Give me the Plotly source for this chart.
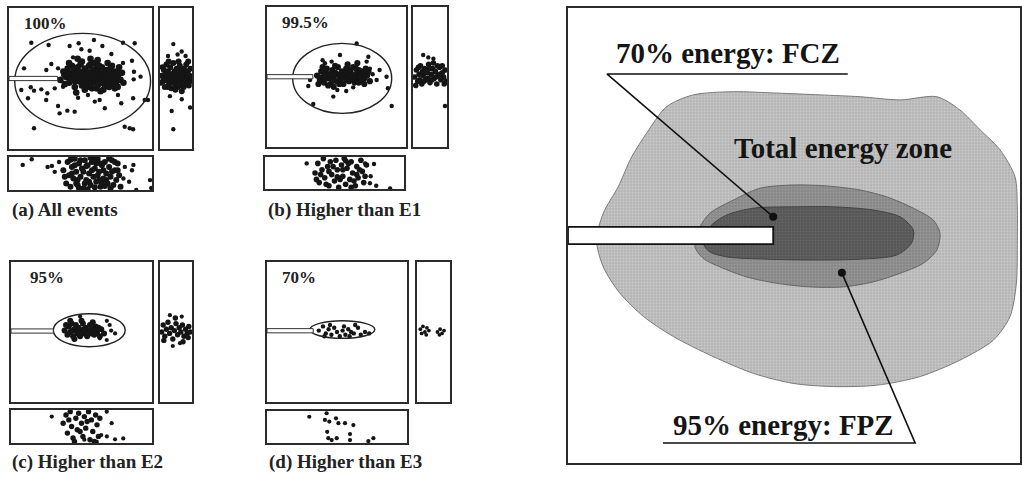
import plotly.graph_objects as go

W, H = 1022, 477
SERIF = "Liberation Serif, Times New Roman, serif"

# ---------------- data (panel units 0-100) ----------------
# Panel (a) all events
A_MAIN = [(38,55),(40,51),(41,57),(42,47),(43,53),(44,59),(45,50),(46,44),(47,56),(48,52),
 (49,48),(50,60),(50,54),(51,45),(52,51),(53,57),(53,42),(54,49),(55,53),(56,46),
 (56,59),(57,51),(58,55),(58,43),(59,48),(60,52),(60,61),(61,57),(62,45),(62,50),
 (63,54),(64,41),(64,48),(65,58),(66,52),(67,45),(67,55),(68,49),(69,61),(70,53),
 (70,44),(71,57),(72,48),(73,51),(74,55),(75,46),(76,52),(77,58),(78,49),(36,49),
 (39,46),(42,61),(45,55),(47,40),(48,58),(51,62),(52,47),(54,55),(55,44),(57,60),
 (58,47),(59,53),(61,43),(63,59),(65,47),(66,42),(68,56),(69,50),(71,52),(72,59),
 (74,43),(75,50),(77,54),(44,52),(46,48),(49,55),(52,54),(55,50),(57,46),(59,56),
 (60,49),(62,56),(64,53),(66,49),(68,53),(70,47),(72,54),(73,46),(53,50),(56,54),
 (61,51),(63,47),(65,51),(67,51),(58,51),(54,52),(50,50),(47,51),(43,49),(41,54),
 (79,54),(80,47),(76,44),(62,63),(57,64),(48,64)]
A_MAIN_SPARSE = [(15.6,75.4),(27.7,73.8),(42.4,73),(48.7,75),(59.4,77.3),(65.3,73),(79.7,75.4),
 (87.9,75),(50.6,70.7),(56.4,69.7),(44.8,65),(71.6,67.4),(79.7,61),(86,62.6),(29.6,60.3),
 (10.5,57.2),(26.1,56),(87.4,54.8),(92,51.3),(87.2,49.4),(15.2,43.8),(17.5,41.4),(22.6,42.3),
 (26.8,39.5),(8.6,41.8),(13.3,36),(26,34.8),(32,43),(37.8,44.2),(48.3,36.4),(55.2,38.3),
 (60,33.6),(63.4,34.8),(67,28.9),(76.2,38.3),(78.5,32.4),(86.8,36),(94.9,34.8),(97.2,34.8),
 (34.3,30.5),(35.4,25.3),(40.8,27.2),(45.9,26.5),(17.5,14.7),(80.9,15.8),(84.4,14.7),
 (86.8,14),(34.3,57.2),(37.8,52.5)]
A_RIGHT = [(5,52),(10,48),(12,56),(15,44),(18,53),(20,60),(22,49),(25,55),(28,46),(30,51),
 (32,58),(35,43),(37,53),(40,49),(42,61),(45,55),(47,46),(50,51),(52,57),(55,44),
 (57,53),(60,48),(62,59),(65,52),(67,45),(70,55),(72,50),(75,57),(77,47),(80,53),
 (82,60),(85,49),(87,55),(90,45),(92,52),(95,57),(97,50),(8,58),(14,50),(24,44),
 (34,48),(44,52),(54,49),(64,56),(74,44),(84,52),(94,48),(3,47),(27,62),(58,62),
 (88,62),(48,42),(68,41)]
A_RIGHT_SPARSE = [(41.6,74.4),(67.7,69.2),(36.5,27),(41.6,14),(94,29.4),
 (31,37.5),(68,35.3),(25,66),(55,67),(80,66)]
A_BOTTOM = [(38,60),(40,20),(41,85),(42,45),(43,10),(44,70),(45,35),(46,95),(47,55),(48,15),
 (49,80),(50,40),(51,65),(52,5),(53,90),(54,30),(55,75),(56,50),(57,15),(58,85),
 (59,40),(60,65),(61,25),(62,95),(63,55),(64,10),(65,75),(66,35),(67,85),(68,50),
 (69,20),(70,70),(71,40),(72,90),(73,15),(74,60),(75,30),(76,80),(77,45),(78,10),
 (39,40),(44,50),(48,30),(50,90),(52,55),(54,72),(56,25),(58,60),(60,8),(62,45),
 (64,80),(66,60),(68,30),(70,95),(72,55),(74,85),(46,75),(57,98),(61,80),(65,20),
 (53,20),(59,92),(67,12),(49,5),(43,92),(76,60),(71,5),(55,2),(63,30),(47,20)]
A_BOTTOM_SPARSE = [(9.6,76),(15.9,93),(27,70),(30,73),(32,55),(81,70),(86,60),(87,76),(89,0),
 (98.6,30),(99.5,6),(80,35),(84,25),(35,85)]

# Panel (b) higher than E1
B_MAIN = [(36,51),(38,48),(39,54),(40,50),(41,46),(42,53),(43,56),(44,49),(45,52),(46,45),
 (47,55),(48,50),(49,53),(50,47),(51,57),(52,51),(53,48),(54,54),(55,45),(56,50),
 (57,56),(58,52),(59,47),(60,54),(61,50),(62,57),(63,46),(64,52),(65,49),(66,55),
 (67,51),(68,47),(69,53),(70,49),(71,56),(72,51),(37,45),(40,57),(44,44),(47,48),
 (49,58),(52,45),(54,50),(57,48),(59,55),(62,49),(64,56),(66,46),(68,54),(70,45),
 (42,50),(46,52),(50,52),(53,52),(56,53),(60,51),(63,51),(67,49),(73,54),(74,47),
 (58,59),(48,43),(65,60)]
B_MAIN_SPARSE = [(64.5,74),(52.5,65.7),(41.7,59.8),(46.5,61),(72.9,64.5),(71.7,61),(74,56),
 (78.9,47.9),(86,50.2),(87,42),(29.7,43.6),(31,47.9),(47.7,36),(50.6,40.7),(33.3,30.7),
 (89.7,29.3),(62,42.6),(76,52),(81,55),(57,40),(40,62)]
B_RIGHT = [(5,50),(10,55),(14,47),(18,52),(22,58),(26,45),(30,51),(34,56),(38,48),(42,53),
 (46,59),(50,46),(54,52),(58,56),(62,49),(66,54),(70,45),(74,51),(78,57),(82,48),
 (86,53),(90,50),(94,55),(97,47),(8,44),(20,48),(32,47),(44,49),(56,48),(68,50),
 (80,52),(92,45),(16,57),(48,56),(72,58),(60,60),(28,54),(86,58)]
B_RIGHT_SPARSE = [(30,65.7),(94,29.3),(45,64),(60,63)]
B_BOTTOM = [(36,50),(38,80),(39,20),(41,60),(42,95),(43,35),(45,70),(46,10),(47,85),(48,45),
 (50,25),(51,90),(52,60),(53,5),(55,75),(56,40),(57,95),(58,15),(59,65),(61,30),
 (62,85),(63,50),(65,10),(66,70),(67,35),(69,90),(70,55),(71,20),(73,75),(40,45),
 (44,15),(49,70),(54,30),(60,80),(64,25),(68,60),(72,40),(37,30),(46,55),(56,60),
 (58,88),(52,38),(62,5),(66,45)]
B_BOTTOM_SPARSE = [(30,80),(72,80),(78.4,78),(90,2),(75.5,18),(76,40),(80,10)]

# Panel (c) higher than E2
C_MAIN = [(38,51),(40,48),(41,54),(42,50),(43,56),(44,47),(45,52),(46,55),(47,49),(48,53),
 (49,47),(50,51),(51,56),(52,49),(53,53),(54,47),(55,51),(56,55),(57,49),(58,52),
 (59,48),(60,54),(61,50),(62,53),(39,55),(44,51),(48,50),(52,52),(56,50),(60,51),
 (64,52),(66,49),(50,58),(45,45),(58,57),(63,47),(42,58)]
C_MAIN_SPARSE = [(70,55),(73.8,49),(67.9,44.3),(49,61),(63,45.5),(68,58),(71,51)]
C_RIGHT = [(5,50),(10,55),(15,47),(20,52),(25,57),(30,49),(35,53),(40,45),(45,51),(50,56),
 (55,48),(60,53),(65,50),(70,55),(75,47),(80,52),(85,49),(90,54),(95,50),(12,44),
 (48,60),(72,43),(88,46)]
C_RIGHT_SPARSE = [(31,62),(68,61),(62.5,42),(40,40)]
C_BOTTOM = [(37,60),(39,85),(40,30),(42,95),(43,50),(44,15),(46,75),(47,40),(48,90),(50,60),
 (51,20),(52,80),(53,45),(55,95),(56,10),(57,70),(58,35),(60,85),(61,55),(62,20),
 (45,5),(49,35),(54,65),(59,5),(41,70),(63,75)]
C_BOTTOM_SPARSE = [(28.9,80),(67.9,95),(71.4,60),(73.8,11),(79.6,14),(64,24),(58,34),(60.8,4),(52,10),(68,20)]

# Panel (d) higher than E3
D_MAIN = [(37,51),(40,54),(42,49),(44,52),(46,48),(48,53),(50,50),(52,47),(54,51),(56,48),
 (58,52),(60,50),(62,49),(65,53),(67,48),(70,50),(73,49),(45,55),(63,55),(55,54),(41,47),(59,47)]
D_RIGHT = [(10,52),(18,54),(24,50),(30,53),(36,51),(14,49),(28,48),(62,50),(70,52),(76,49),(82,51),(68,48)]
D_BOTTOM = [(30.2,82),(42.6,93),(41.4,72),(44.5,67),(49.3,77),(51,62),(55.7,62),(61.7,56),
 (43,35),(43.8,15),(46.2,9),(49.8,15),(59.3,28),(59.3,9),(72.4,6),(76,15)]

# ellipse extents [x0, x1, y0, y1] and needle tip x / centre y per panel
ELLIPSES = [[4, 99, 14, 82], [18.5, 89.7, 24, 74], [30, 81, 39.5, 63], [30.7, 77, 45.5, 58]]
NEEDLE_END = [34, 33, 30, 33]
NEEDLE_Y = [50, 50.2, 50.7, 50.9]
PERCENT_LABELS = ["100%", "99.5%", "95%", "70%"]
CAPTIONS = ["(a) All events", "(b) Higher than E1", "(c) Higher than E2", "(d) Higher than E3"]

# Right diagram: zone outlines
TOTAL_X = [6.3,7.8,11.1,14.1,17.4,21.8,27.7,36.6,46.2,55.8,64.6,73.5,81.6,86.7,91.2,95.6,98.9,99.4,
           99.4,99.2,97.8,94.1,86.7,77.9,68.3,58.7,49.8,41.0,32.1,23.3,16.7,11.5,7.8]
TOTAL_Y = [49.0,54.9,60.7,67.3,72.5,78.3,80.9,81.6,81.3,80.9,80.5,79.8,80.5,77.6,73.2,68.8,62.9,56.3,
           49.0,39.5,32.2,27.0,22.6,19.0,17.1,16.8,17.5,19.7,23.4,27.8,32.2,37.3,43.1]
FPZ_X = [28.1,29.2,31.4,36.6,42.5,49.8,57.2,64.6,70.5,76.4,80.8,82.3,81.6,78.6,73.5,67.5,60.9,53.5,46.2,39.5,33.6,29.9]
FPZ_Y = [47.5,51.9,54.9,57.8,60.4,61.1,60.9,60.0,58.5,56.0,53.4,50.5,46.8,43.9,41.7,39.8,38.7,38.7,39.5,40.9,43.1,45.0]
FCZ_X = [30.1,31.4,35.1,41.0,49.8,58.7,67.5,73.5,76.4,76.0,72.7,64.6,54.3,44.0,35.1,31.4]
FCZ_Y = [47.9,51.9,54.5,56.0,56.3,56.3,55.6,54.1,51.2,48.3,45.7,44.8,44.6,44.8,45.3,46.4]
R_NEEDLE = [0, 45.4, 48.1, 51.9]
FCZ_LEADER_X = [61.9, 8.6, 45.4]
FCZ_LEADER_Y = [85.5, 85.5, 54.1]
FPZ_LEADER_X = [21.0, 76.8, 60.6]
FPZ_LEADER_Y = [4.4, 4.4, 41.8]
R_LABELS = ["70% energy: FCZ", "Total energy zone", "95% energy: FPZ"]
R_LABEL_X = [35.4, 60.8, 47.6]
R_LABEL_Y = [90.1, 69.2, 8.4]

# ---------------- layout geometry (pixels) ----------------
PANELS = [
    dict(main=(9, 152, 8, 149), right=(160, 192, 8, 149), bottom=(9, 152, 157, 190), cap=(10, 210)),
    dict(main=(267, 406, 7, 147), right=(413, 447, 7, 147), bottom=(265, 404, 157, 189), cap=(266, 210)),
    dict(main=(11, 152, 262, 402), right=(160, 192, 262, 402), bottom=(11, 152, 410, 443), cap=(10, 462)),
    dict(main=(267, 407, 262, 402), right=(417, 450, 262, 402), bottom=(267, 407, 411, 443), cap=(267, 462)),
]
# marker sizes per panel: (dense core, sparse points)
SIZES = [(6.6, 4.4), (6.2, 4.4), (6.0, 4.2), (4.4, 4.2)]
RIGHT_BOX = (568, 1020, 8, 463)

fig = go.Figure()
layout = dict(width=W, height=H, margin=dict(l=0, r=0, t=0, b=0), showlegend=False,
              plot_bgcolor="white", paper_bgcolor="white")
shapes, annotations = [], []
k = [0]

def add_axes(box):
    k[0] += 1
    n = k[0]
    x0, x1, y0, y1 = box
    ax = dict(domain=[x0 / W, x1 / W], range=[0, 100], showgrid=False, zeroline=False,
              showticklabels=False, ticks="", showline=True, mirror=True,
              linecolor="#2b2b2b", linewidth=1.6, fixedrange=True)
    ay = dict(ax)
    ay["domain"] = [1 - y1 / H, 1 - y0 / H]
    sx = "" if n == 1 else str(n)
    ax["anchor"] = "y" + sx
    ay["anchor"] = "x" + sx
    layout["xaxis" + sx] = ax
    layout["yaxis" + sx] = ay
    return "x" + sx, "y" + sx

def pts(xref, yref, P, size):
    if not P:
        return
    fig.add_trace(go.Scatter(x=[p[0] for p in P], y=[p[1] for p in P], mode="markers",
                             xaxis=xref, yaxis=yref, hoverinfo="skip",
                             marker=dict(color="#151515", size=size, line=dict(width=0))))

MAINS = [(A_MAIN, A_MAIN_SPARSE), (B_MAIN, B_MAIN_SPARSE), (C_MAIN, C_MAIN_SPARSE), (D_MAIN, [])]
RIGHTS = [(A_RIGHT, A_RIGHT_SPARSE), (B_RIGHT, B_RIGHT_SPARSE), (C_RIGHT, C_RIGHT_SPARSE), (D_RIGHT, [])]
BOTTOMS = [(A_BOTTOM, A_BOTTOM_SPARSE), (B_BOTTOM, B_BOTTOM_SPARSE), (C_BOTTOM, C_BOTTOM_SPARSE), ([], D_BOTTOM)]

for i, P in enumerate(PANELS):
    big, small = SIZES[i]
    xr, yr = add_axes(P["main"])
    core, sparse = MAINS[i]
    pts(xr, yr, core, big)
    pts(xr, yr, sparse, small)
    e = ELLIPSES[i]
    shapes.append(dict(type="circle", xref=xr, yref=yr, x0=e[0], x1=e[1], y0=e[2], y1=e[3],
                       line=dict(color="#222", width=1.4)))
    shapes.append(dict(type="rect", xref=xr, yref=yr, x0=0, x1=NEEDLE_END[i],
                       y0=NEEDLE_Y[i] - 1.5, y1=NEEDLE_Y[i] + 1.5, fillcolor="white",
                       line=dict(color="#333", width=1), layer="above"))
    annotations.append(dict(xref=xr, yref=yr, x=9 if i != 2 else 12, y=89, text="<b>%s</b>" % PERCENT_LABELS[i],
                            showarrow=False, xanchor="left", yanchor="middle",
                            font=dict(family=SERIF, size=17, color="#222")))
    xr2, yr2 = add_axes(P["right"])
    pts(xr2, yr2, RIGHTS[i][0], big - 0.6)
    pts(xr2, yr2, RIGHTS[i][1], small)
    xr3, yr3 = add_axes(P["bottom"])
    pts(xr3, yr3, BOTTOMS[i][0], big - 0.6)
    pts(xr3, yr3, BOTTOMS[i][1], small)
    cx, cy = P["cap"]
    annotations.append(dict(xref="paper", yref="paper", x=cx / W, y=1 - cy / H,
                            text="<b>%s</b>" % CAPTIONS[i], showarrow=False,
                            xanchor="left", yanchor="middle",
                            font=dict(family=SERIF, size=19, color="#222")))

# ---- right diagram ----
xr, yr = add_axes(RIGHT_BOX)
for X, Y, col, fg, lc in [(TOTAL_X, TOTAL_Y, "#b5b5b5", "#e2e2e2", "#7a7a7a"),
                          (FPZ_X, FPZ_Y, "#878787", "#adadad", "#666666"),
                          (FCZ_X, FCZ_Y, "#565656", "#767676", "#444444")]:
    fig.add_trace(go.Scatter(x=X + X[:1], y=Y + Y[:1], mode="lines", fill="toself",
                             fillcolor=col,
                             fillpattern=dict(shape=".", size=3, solidity=0.35, bgcolor=col, fgcolor=fg),
                             line=dict(color=lc, width=1, shape="spline", smoothing=0.8),
                             xaxis=xr, yaxis=yr, hoverinfo="skip"))
shapes.append(dict(type="rect", xref=xr, yref=yr, x0=R_NEEDLE[0], x1=R_NEEDLE[1],
                   y0=R_NEEDLE[2], y1=R_NEEDLE[3], fillcolor="white",
                   line=dict(color="#111", width=1.8), layer="above"))
for LX, LY in [(FCZ_LEADER_X, FCZ_LEADER_Y), (FPZ_LEADER_X, FPZ_LEADER_Y)]:
    fig.add_trace(go.Scatter(x=LX, y=LY, mode="lines", line=dict(color="#111", width=1.6),
                             xaxis=xr, yaxis=yr, hoverinfo="skip"))
    fig.add_trace(go.Scatter(x=LX[-1:], y=LY[-1:], mode="markers", marker=dict(color="#111", size=8),
                             xaxis=xr, yaxis=yr, hoverinfo="skip"))
for t, x, y in zip(R_LABELS, R_LABEL_X, R_LABEL_Y):
    annotations.append(dict(xref=xr, yref=yr, x=x, y=y, text="<b>%s</b>" % t, showarrow=False,
                            xanchor="center", yanchor="middle",
                            font=dict(family=SERIF, size=29, color="#151515")))

layout["shapes"] = shapes
layout["annotations"] = annotations
fig.update_layout(**layout)
fig.write_html("out.html", config={"displayModeBar": False},
               post_script="document.body.style.margin='0';document.body.style.overflow='hidden';")
